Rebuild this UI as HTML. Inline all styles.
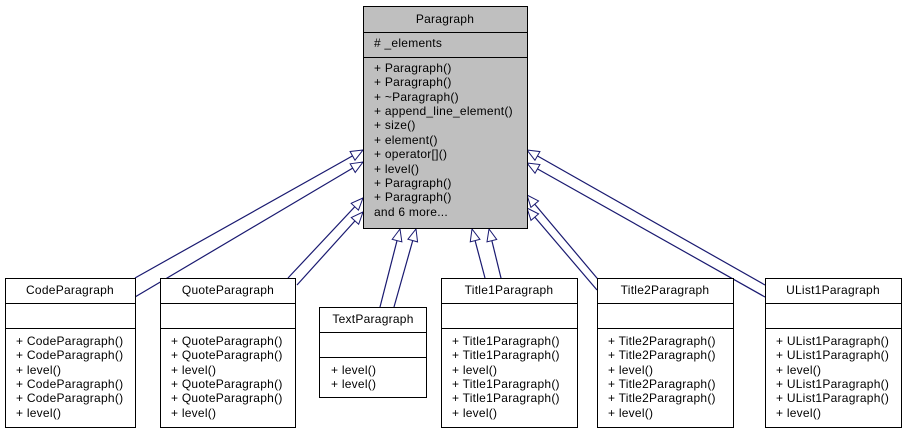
<!DOCTYPE html>
<html><head><style>
body{margin:0;background:#fff;width:908px;height:433px;overflow:hidden}
svg text{font-family:"Liberation Sans",Arial,sans-serif;font-size:12px;letter-spacing:0.25px;fill:#000}
</style></head><body>
<svg width="908" height="433" xmlns="http://www.w3.org/2000/svg">
<defs>
<marker id="a" markerUnits="userSpaceOnUse" markerWidth="14" markerHeight="12" refX="13" refY="6" orient="auto">
<path d="M1,1 L13,6 L1,11 Z" fill="#fff" stroke="#191970" stroke-width="1"/>
</marker>
</defs>
<g stroke="#191970" stroke-width="1.2" fill="none">
<line x1="135" y1="278" x2="363" y2="150" marker-end="url(#a)"/>
<line x1="135" y1="297" x2="363" y2="162" marker-end="url(#a)"/>
<line x1="288" y1="278" x2="363" y2="198" marker-end="url(#a)"/>
<line x1="297" y1="285" x2="363" y2="212" marker-end="url(#a)"/>
<line x1="380" y1="307" x2="400" y2="229" marker-end="url(#a)"/>
<line x1="394" y1="307" x2="416" y2="229" marker-end="url(#a)"/>
<line x1="485" y1="278" x2="472" y2="229" marker-end="url(#a)"/>
<line x1="501" y1="278" x2="489" y2="229" marker-end="url(#a)"/>
<line x1="607" y1="290" x2="527" y2="195" marker-end="url(#a)"/>
<line x1="765" y1="285" x2="527" y2="150" marker-end="url(#a)"/>
<line x1="765" y1="297" x2="527" y2="163" marker-end="url(#a)"/>
<line x1="597" y1="290" x2="527" y2="208" marker-end="url(#a)"/>
</g>
<g stroke="#000" stroke-width="1">
<rect x="363.5" y="6.5" width="164" height="222" fill="#bfbfbf"/>
<line x1="363" y1="32.5" x2="527" y2="32.5"/><line x1="363" y1="57.5" x2="527" y2="57.5"/>
</g>
<text x="445" y="23" text-anchor="middle">Paragraph</text>
<text x="374" y="47"># _elements</text>
<g>
<text x="374" y="72">+ Paragraph()</text>
<text x="374" y="86">+ Paragraph()</text>
<text x="374" y="101">+ ~Paragraph()</text>
<text x="374" y="115">+ append_line_element()</text>
<text x="374" y="129">+ size()</text>
<text x="374" y="144">+ element()</text>
<text x="374" y="158">+ operator[]()</text>
<text x="374" y="173">+ level()</text>
<text x="374" y="187">+ Paragraph()</text>
<text x="374" y="201">+ Paragraph()</text>
<text x="374" y="216">and 6 more...</text>
</g>
<g stroke="#000" stroke-width="1" fill="#fff">
<rect x="5.5" y="278.5" width="130" height="149"/><line x1="5" y1="303.5" x2="135" y2="303.5"/><line x1="5" y1="328.5" x2="135" y2="328.5"/>
<rect x="160.5" y="278.5" width="135" height="149"/><line x1="160" y1="303.5" x2="295" y2="303.5"/><line x1="160" y1="328.5" x2="295" y2="328.5"/>
<rect x="319.5" y="307.5" width="107" height="90"/><line x1="319" y1="332.5" x2="426" y2="332.5"/><line x1="319" y1="357.5" x2="426" y2="357.5"/>
<rect x="441.5" y="278.5" width="136" height="149"/><line x1="441" y1="303.5" x2="577" y2="303.5"/><line x1="441" y1="328.5" x2="577" y2="328.5"/>
<rect x="597.5" y="278.5" width="136" height="149"/><line x1="597" y1="303.5" x2="733" y2="303.5"/><line x1="597" y1="328.5" x2="733" y2="328.5"/>
<rect x="765.5" y="278.5" width="136" height="149"/><line x1="765" y1="303.5" x2="901" y2="303.5"/><line x1="765" y1="328.5" x2="901" y2="328.5"/>
</g>
<text x="70" y="294" text-anchor="middle">CodeParagraph</text>
<text x="16" y="345">+ CodeParagraph()</text><text x="16" y="359">+ CodeParagraph()</text><text x="16" y="374">+ level()</text><text x="16" y="388">+ CodeParagraph()</text><text x="16" y="402">+ CodeParagraph()</text><text x="16" y="417">+ level()</text>
<text x="228" y="294" text-anchor="middle">QuoteParagraph</text>
<text x="171" y="345">+ QuoteParagraph()</text><text x="171" y="359">+ QuoteParagraph()</text><text x="171" y="374">+ level()</text><text x="171" y="388">+ QuoteParagraph()</text><text x="171" y="402">+ QuoteParagraph()</text><text x="171" y="417">+ level()</text>
<text x="373" y="323" text-anchor="middle">TextParagraph</text>
<text x="331" y="374">+ level()</text><text x="331" y="388">+ level()</text>
<text x="509" y="294" text-anchor="middle">Title1Paragraph</text>
<text x="452" y="345">+ Title1Paragraph()</text><text x="452" y="359">+ Title1Paragraph()</text><text x="452" y="374">+ level()</text><text x="452" y="388">+ Title1Paragraph()</text><text x="452" y="402">+ Title1Paragraph()</text><text x="452" y="417">+ level()</text>
<text x="665" y="294" text-anchor="middle">Title2Paragraph</text>
<text x="608" y="345">+ Title2Paragraph()</text><text x="608" y="359">+ Title2Paragraph()</text><text x="608" y="374">+ level()</text><text x="608" y="388">+ Title2Paragraph()</text><text x="608" y="402">+ Title2Paragraph()</text><text x="608" y="417">+ level()</text>
<text x="833" y="294" text-anchor="middle">UList1Paragraph</text>
<text x="776" y="345">+ UList1Paragraph()</text><text x="776" y="359">+ UList1Paragraph()</text><text x="776" y="374">+ level()</text><text x="776" y="388">+ UList1Paragraph()</text><text x="776" y="402">+ UList1Paragraph()</text><text x="776" y="417">+ level()</text>
</svg>
</body></html>
